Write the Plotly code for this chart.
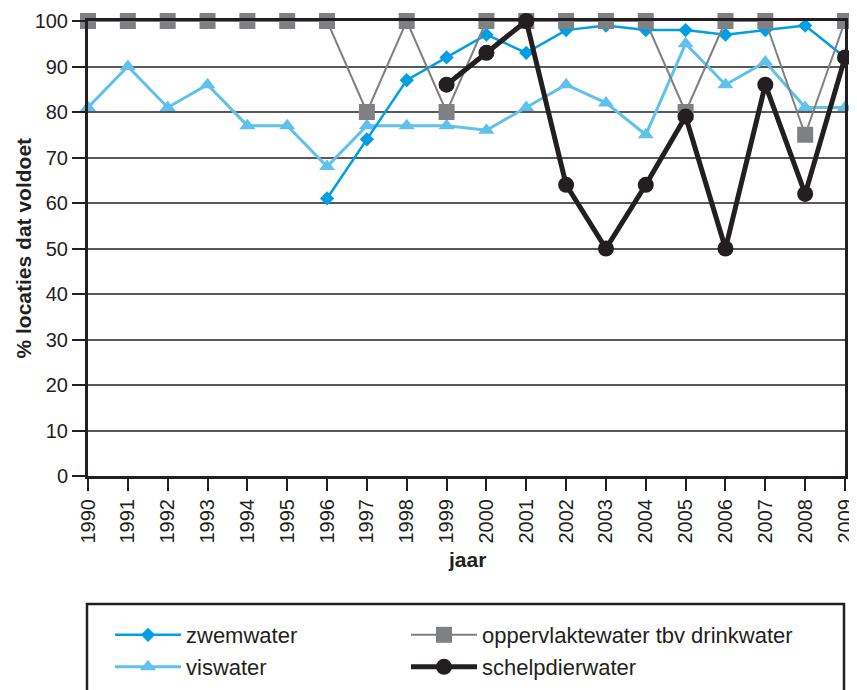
import plotly.graph_objects as go

years = list(range(1990, 2010))
year_labels = [str(y) for y in years]

zwemwater = [None, None, None, None, None, None, 61, 74, 87, 92, 97, 93, 98, 99, 98, 98, 97, 98, 99, 92]
viswater = [81, 90, 81, 86, 77, 77, 68, 77, 77, 77, 76, 81, 86, 82, 75, 95, 86, 91, 81, 81]
oppervlaktewater = [100, 100, 100, 100, 100, 100, 100, 80, 100, 80, 100, 100, 100, 100, 100, 80, 100, 100, 75, 100]
schelpdierwater = [None, None, None, None, None, None, None, None, None, 86, 93, 100, 64, 50, 64, 79, 50, 86, 62, 92]

y_ticks = list(range(0, 101, 10))

FONT = "Liberation Sans, Arial, sans-serif"
INK = "#231f20"

fig = go.Figure()

fig.add_trace(go.Scatter(
    x=years, y=viswater, name="viswater", mode="lines+markers",
    line=dict(color="#5fc1ec", width=3),
    marker=dict(symbol="triangle-up", size=14, color="#5fc1ec"),
    cliponaxis=False, legend="legend2", showlegend=True))
fig.add_trace(go.Scatter(
    x=years, y=zwemwater, name="zwemwater", mode="lines+markers",
    line=dict(color="#009fe3", width=2.5),
    marker=dict(symbol="diamond", size=11, color="#009fe3"),
    cliponaxis=False, legend="legend", showlegend=True))
fig.add_trace(go.Scatter(
    x=years, y=oppervlaktewater, name="oppervlaktewater tbv drinkwater", mode="lines+markers",
    line=dict(color="#7f8083", width=2),
    marker=dict(symbol="square", size=16, color="#7f8083"),
    cliponaxis=False, legend="legend3", showlegend=True))
fig.add_trace(go.Scatter(
    x=years, y=schelpdierwater, name="schelpdierwater", mode="lines+markers",
    line=dict(color=INK, width=5),
    marker=dict(symbol="circle", size=16, color=INK),
    cliponaxis=False, legend="legend4", showlegend=True))

# page has an 8px body margin; figure sized so the plot lands where the reference has it
OFF = 8
W, H = 857 - OFF, 690 - OFF
PL, PR, PT, PB = 88, 845, 21, 476  # plot area in page pixels
L, T = PL - OFF, PT - OFF
R, B = W - (PR - OFF), H - (PB - OFF)
PW, PH = PR - PL, PB - PT

def px_x(px):
    return (px - PL) / PW

def px_y(py):
    return (PB - py) / PH

leg_common = dict(bgcolor="rgba(0,0,0,0)", borderwidth=0, itemwidth=66,
                  font=dict(family=FONT, size=22, color=INK),
                  xanchor="left", yanchor="middle", orientation="v")

fig.update_layout(
    width=W, height=H,
    margin=dict(l=L, r=R, t=T, b=B, autoexpand=False),
    paper_bgcolor="white", plot_bgcolor="white",
    showlegend=True,
    font=dict(family=FONT, size=20, color=INK),
    legend=dict(x=px_x(110), y=px_y(635), **leg_common),
    legend2=dict(x=px_x(110), y=px_y(667), **leg_common),
    legend3=dict(x=px_x(406), y=px_y(635), **leg_common),
    legend4=dict(x=px_x(406), y=px_y(667), **leg_common),
    xaxis=dict(
        range=[1990, 2009], tickmode="array", tickvals=years, ticktext=year_labels,
        tickangle=-90, ticks="outside", ticklen=12, tickwidth=2, tickcolor=INK,
        showgrid=False, showline=True, linecolor=INK, linewidth=3, mirror=True,
        zeroline=False, automargin=False,
        tickfont=dict(family=FONT, size=20, color=INK),
    ),
    yaxis=dict(
        range=[0, 100], tickmode="array", tickvals=y_ticks,
        ticks="outside", ticklen=13, tickwidth=2, tickcolor=INK,
        showgrid=True, gridcolor="#58595b", gridwidth=2,
        showline=True, linecolor=INK, linewidth=3, mirror=True,
        zeroline=False, automargin=False,
        tickfont=dict(family=FONT, size=20, color=INK),
    ),
    annotations=[
        dict(text="<b>jaar</b>", xref="paper", yref="paper", x=px_x(467), y=px_y(559),
             xanchor="center", yanchor="middle", showarrow=False,
             font=dict(family=FONT, size=21, color=INK)),
        dict(text="<b>% locaties dat voldoet</b>", xref="paper", yref="paper", x=px_x(23), y=px_y(248.5),
             xanchor="center", yanchor="middle", showarrow=False, textangle=-90,
             font=dict(family=FONT, size=21, color=INK)),
    ],
    shapes=[dict(type="rect", xref="paper", yref="paper",
                 x0=px_x(87), x1=px_x(844), y0=px_y(720), y1=px_y(604),
                 line=dict(color=INK, width=2.5), fillcolor="rgba(0,0,0,0)", layer="above")],
)

fig.write_html("out.html")
